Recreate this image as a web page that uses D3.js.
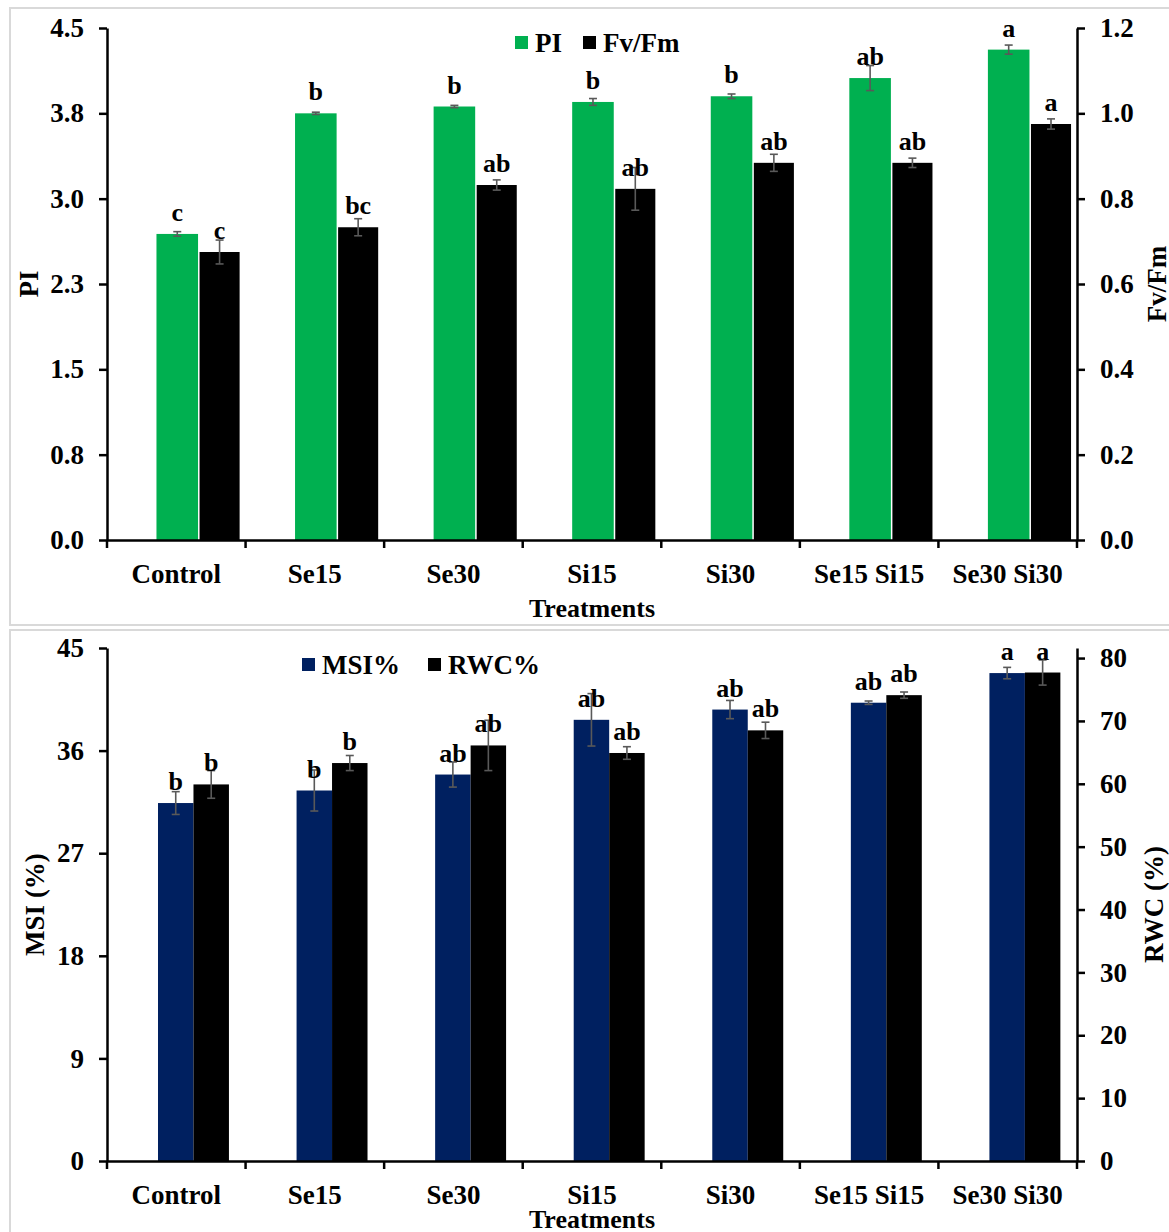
<!DOCTYPE html>
<html>
<head>
<meta charset="utf-8">
<script src="https://cdn.jsdelivr.net/npm/d3@7"></script>
<style>
  body { margin: 0; background: #fff; }
  text { font-family: "Liberation Serif", "Times New Roman", serif; font-weight: bold; fill: #000; }
</style>
</head>
<body>
<div id="fig"></div>
<script>
const width = 1169
const height = 1232

// data
const treatments = ['Control', 'Se15', 'Se30', 'Si15', 'Si30', 'Se15 Si15', 'Se30 Si30']

const piValues = [2.69, 3.75, 3.81, 3.85, 3.90, 4.06, 4.31]
const piErr = [0.02, 0.01, 0.01, 0.03, 0.02, 0.11, 0.04]
const piLetters = ['c', 'b', 'b', 'b', 'b', 'ab', 'a']

const fvfmValues = [0.675, 0.733, 0.832, 0.823, 0.884, 0.884, 0.975]
const fvfmErr = [0.028, 0.02, 0.012, 0.05, 0.02, 0.011, 0.012]
const fvfmLetters = ['c', 'bc', 'ab', 'ab', 'ab', 'ab', 'a']

const msiValues = [31.4, 32.5, 33.9, 38.7, 39.6, 40.2, 42.8]
const msiErr = [1.0, 1.8, 1.1, 2.3, 0.8, 0.15, 0.5]
const msiLetters = ['b', 'b', 'ab', 'ab', 'ab', 'ab', 'a']

const rwcValues = [59.9, 63.3, 66.1, 64.9, 68.5, 74.1, 77.7]
const rwcErr = [2.2, 1.2, 4.0, 1.0, 1.3, 0.5, 2.0]
const rwcLetters = ['b', 'b', 'ab', 'ab', 'ab', 'ab', 'a']

const piTicks = [0, 0.75, 1.5, 2.25, 3.0, 3.75, 4.5]
const piTickLabels = ['0.0', '0.8', '1.5', '2.3', '3.0', '3.8', '4.5']
const fvfmTicks = [0, 0.2, 0.4, 0.6, 0.8, 1.0, 1.2]
const msiTicks = [0, 9, 18, 27, 36, 45]
const rwcTicks = [0, 10, 20, 30, 40, 50, 60, 70, 80]

const svg = d3.select('#fig')
    .append('svg')
    .attr('width', width)
    .attr('height', height)

const draw_panel = function(p) {
    const g = svg.append('g')

    g.append('rect')
        .attr('x', 10).attr('y', p.boxTop)
        .attr('width', 1175).attr('height', p.boxHeight)
        .attr('fill', 'none')
        .attr('stroke', '#d9d9d9')
        .attr('stroke-width', 2)

    const x = d3.scaleBand()
        .domain(treatments)
        .range([107, 1077])
        .padding(0)
    const bw = x.bandwidth()

    const yL = d3.scaleLinear().domain(p.leftDomain).range([p.bottom, p.top])
    const yR = d3.scaleLinear().domain(p.rightDomain).range([p.bottom, p.top])

    const series = [
        {values: p.v1, err: p.e1, letters: p.l1, y: yL, color: p.c1, off: p.off, gap: 0},
        {values: p.v2, err: p.e2, letters: p.l2, y: yR, color: '#000', off: p.off + p.w, gap: p.gap}
    ]

    series.forEach(function(s) {
        const bx = (d, i) => x(treatments[i]) + s.off * bw + s.gap
        const cx = (d, i) => bx(d, i) + (p.w * bw - s.gap) / 2

        g.append('g').selectAll('rect')
            .data(s.values)
            .enter()
            .append('rect')
            .attr('x', bx)
            .attr('y', d => s.y(d))
            .attr('width', p.w * bw - s.gap)
            .attr('height', d => s.y(0) - s.y(d))
            .attr('fill', s.color)

        const eb = g.append('g').attr('stroke', '#595959').attr('stroke-width', 1.6)
        s.values.forEach(function(d, i) {
            const c = cx(d, i)
            const y1 = s.y(d + s.err[i]), y2 = s.y(d - s.err[i])
            eb.append('line').attr('x1', c).attr('x2', c).attr('y1', y1).attr('y2', y2)
            eb.append('line').attr('x1', c - 4).attr('x2', c + 4).attr('y1', y1).attr('y2', y1)
            eb.append('line').attr('x1', c - 4).attr('x2', c + 4).attr('y1', y2).attr('y2', y2)
        })

        g.append('g').selectAll('text')
            .data(s.letters)
            .enter()
            .append('text')
            .attr('x', (d, i) => cx(0, i))
            .attr('y', (d, i) => s.y(s.values[i]) - 13)
            .attr('text-anchor', 'middle')
            .style('font-size', '26px')
            .text(d => d)
    })

    // axes
    const leftAxis = d3.axisLeft(yL)
        .tickValues(p.leftTicks)
        .tickFormat((d, i) => p.leftLabels[i])
        .tickSize(8).tickSizeOuter(0).tickPadding(15)
    const la = g.append('g').attr('transform', 'translate(107,0)').call(leftAxis)

    const rightAxis = d3.axisRight(yR)
        .tickValues(p.rightTicks)
        .tickFormat(p.rightFormat)
        .tickSize(8).tickSizeOuter(0).tickPadding(15)
    const ra = g.append('g').attr('transform', 'translate(1077,0)').call(rightAxis)

    const bottomAxis = d3.axisBottom(x).tickSize(0).tickPadding(24)
    const ba = g.append('g').attr('transform', `translate(0,${p.bottom})`).call(bottomAxis)

    ;[la, ra, ba].forEach(function(a) {
        a.selectAll('path, line').attr('stroke', '#000').attr('stroke-width', 2.5)
        a.selectAll('text')
            .style('font-family', '"Liberation Serif", serif')
            .style('font-weight', 'bold')
            .style('font-size', '27px')
            .attr('fill', '#000')
    })

    const bounds = d3.range(treatments.length + 1).map(i => 107 + i * x.step())
    g.append('g').selectAll('line')
        .data(bounds)
        .enter()
        .append('line')
        .attr('x1', d => d).attr('x2', d => d)
        .attr('y1', p.bottom).attr('y2', p.bottom + 8)
        .attr('stroke', '#000')
        .attr('stroke-width', 2.5)

    // titles
    g.append('text')
        .attr('x', 592).attr('y', p.bottom + p.xTitleGap)
        .attr('text-anchor', 'middle')
        .style('font-size', '26px')
        .text('Treatments')

    const mid = (p.top + p.bottom) / 2
    g.append('text')
        .attr('transform', `translate(${p.leftTitleX},${mid}) rotate(-90)`)
        .attr('text-anchor', 'middle')
        .style('font-size', '27px')
        .text(p.leftTitle)
    g.append('text')
        .attr('transform', `translate(${p.rightTitleX},${mid}) rotate(-90)`)
        .attr('text-anchor', 'middle')
        .style('font-size', '27px')
        .text(p.rightTitle)

    // legend
    const lg = g.append('g').attr('transform', `translate(0,${p.legendY})`)
    p.legend.forEach(function(item) {
        lg.append('rect')
            .attr('x', item.x).attr('y', -7)
            .attr('width', 13).attr('height', 13)
            .attr('fill', item.color)
        lg.append('text')
            .attr('x', item.x + 20).attr('y', 9)
            .style('font-size', '27px')
            .text(item.label)
    })
}

draw_panel({
    boxTop: 8, boxHeight: 617,
    top: 28, bottom: 540,
    leftDomain: [0, 4.5], rightDomain: [0, 1.2],
    leftTicks: piTicks, leftLabels: piTickLabels,
    rightTicks: fvfmTicks, rightFormat: d3.format('.1f'),
    v1: piValues, e1: piErr, l1: piLetters, c1: '#00b050',
    v2: fvfmValues, e2: fvfmErr, l2: fvfmLetters,
    off: 0.357, w: 0.30, gap: 1.5,
    xTitleGap: 77,
    leftTitle: 'PI', leftTitleX: 38,
    rightTitle: 'Fv/Fm', rightTitleX: 1166,
    legendY: 43,
    legend: [
        {x: 515, color: '#00b050', label: 'PI'},
        {x: 583, color: '#000', label: 'Fv/Fm'}
    ]
})

draw_panel({
    boxTop: 630, boxHeight: 610,
    top: 648, bottom: 1161,
    leftDomain: [0, 45], rightDomain: [0, 81.6],
    leftTicks: msiTicks, leftLabels: msiTicks.map(String),
    rightTicks: rwcTicks, rightFormat: d3.format('d'),
    v1: msiValues, e1: msiErr, l1: msiLetters, c1: '#002060',
    v2: rwcValues, e2: rwcErr, l2: rwcLetters,
    off: 0.368, w: 0.256, gap: 0,
    xTitleGap: 67,
    leftTitle: 'MSI (%)', leftTitleX: 44,
    rightTitle: 'RWC (%)', rightTitleX: 1163,
    legendY: 665,
    legend: [
        {x: 302, color: '#002060', label: 'MSI%'},
        {x: 428, color: '#000', label: 'RWC%'}
    ]
})
</script>
</body>
</html>
